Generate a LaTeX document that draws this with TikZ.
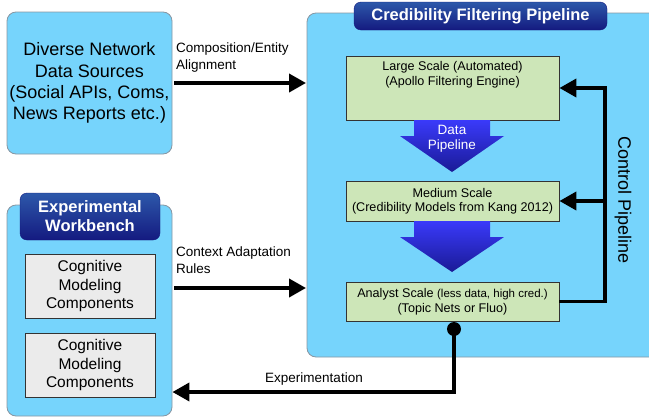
\documentclass[tikz,border=0pt]{standalone}
\usepackage{fontspec}
\setmainfont{Liberation Sans}
\usetikzlibrary{arrows.meta,calc}
\definecolor{skyb}{RGB}{118,212,252}
\definecolor{skyedge}{RGB}{135,150,162}
\definecolor{paleg}{RGB}{205,230,184}
\definecolor{paleq}{RGB}{235,235,235}
\definecolor{bantop}{RGB}{45,88,170}
\definecolor{banbot}{RGB}{20,26,128}
\definecolor{arrtop}{RGB}{58,58,250}
\definecolor{arrbot}{RGB}{26,26,150}
\begin{document}
\begin{tikzpicture}[x=1pt,y=-1pt,
  bluebox/.style={draw=skyedge, line width=0.8pt, fill=skyb, rounded corners=9pt},
  banner/.style={draw=banbot, rounded corners=7pt, top color=bantop, bottom color=banbot, text=white, font=\bfseries\fontsize{16.5}{19}\selectfont, align=center, inner sep=0pt},
  greenbox/.style={draw=black!80, line width=0.8pt, fill=paleg, minimum width=213pt, inner sep=0pt},
  graybox/.style={draw=black!80, line width=0.8pt, fill=paleq, minimum width=130pt, minimum height=64pt, align=center, font=\fontsize{15.5}{18.3}\selectfont, inner sep=0pt},
  boxtext/.style={align=center, font=\fontsize{12.6}{14.5}\selectfont, inner sep=0pt},
  lbl/.style={align=left, font=\fontsize{13.5}{17}\selectfont, inner sep=0pt},
  thickarrow/.style={line width=3.8pt, line join=miter, -{Triangle[length=17pt,width=18pt]}},
  bigarrow/.style={top color=arrtop, bottom color=arrbot}
]
\useasboundingbox (0,0) rectangle (649,418);
\begin{scope}
\clip (0,0) rectangle (649,418);
% pipeline container
\node[bluebox, minimum width=360pt, minimum height=344pt, inner sep=0pt] (pipe) at (487,185) {};
\end{scope}
\node[banner, minimum width=253pt, minimum height=28pt] (ptitle) at (480.5,16) {Credibility Filtering Pipeline};

% diverse sources
\node[bluebox, minimum width=165pt, minimum height=142pt, align=center, font=\fontsize{18}{21.2}\selectfont, inner sep=0pt] (src) at (89.5,83) {Diverse Network\\Data Sources\\(Social APIs, Coms,\\News Reports etc.)};

% workbench
\node[bluebox, minimum width=165pt, minimum height=211pt, inner sep=0pt] (wb) at (89.5,310.5) {};
\node[banner, minimum width=140pt, minimum height=47pt] (wbtitle) at (90,216.5) {Experimental\\Workbench};
\node[graybox] (cog1) at (90,286) {Cognitive\\Modeling\\Components};
\node[graybox] (cog2) at (90,365) {Cognitive\\Modeling\\Components};

% stages
\node[greenbox, minimum height=64pt] (large) at (452.5,88) {};
\node[boxtext, anchor=north] (largeT) at ($(large.north)+(0,6)$) {Large Scale (Automated)\\(Apollo Filtering Engine)};
\node[greenbox, minimum height=40pt, boxtext] (medium) at (452.5,201) {Medium Scale\\(Credibility Models from Kang 2012)};
\node[greenbox, minimum height=39pt, boxtext] (analyst) at (452.5,301.5) {Analyst Scale {\fontsize{11.5}{13}\selectfont(less data, high cred.)}\\(Topic Nets or Fluo)};

% data pipeline arrows
\shade[bigarrow] (414,120) -- (490,120) -- (490,136) -- (504,136) -- (452,172) -- (400,136) -- (414,136) -- cycle;
\node[align=center, text=white, font=\fontsize{13.5}{15}\selectfont, inner sep=0pt] (dp) at (452,139) {Data\\Pipeline};
\shade[bigarrow] (414,221) -- (490,221) -- (490,237) -- (504,237) -- (452,272) -- (400,237) -- (414,237) -- cycle;

% input arrows
\coordinate (a1s) at (174,83);
\coordinate (a1e) at (306,83);
\draw[thickarrow] (a1s) -- (a1e);
\node[lbl, anchor=north west] (l1) at (176,43) {Composition/Entity\\Alignment};
\coordinate (a2s) at (174,288);
\coordinate (a2e) at (306,288);
\draw[thickarrow] (a2s) -- (a2e);
\node[lbl, anchor=north west] (l2) at (176,247) {Context Adaptation\\Rules};

% control pipeline
\coordinate (cp) at (605,88);
\draw[thickarrow] (analyst.east) -| (cp) -- (large.east);
\draw[thickarrow] (cp |- medium.east) -- (medium.east);
\node[rotate=-90, font=\fontsize{18}{20}\selectfont, inner sep=0pt] (cpl) at (623,200) {Control Pipeline};

% experimentation
\node[circle, fill=black, minimum size=14pt, inner sep=0pt] (dot) at (454,329) {};
\coordinate (ex) at (454,392);
\draw[thickarrow] (dot.center) -- (ex) -- (wb.east |- ex);
\node[font=\fontsize{13.5}{15}\selectfont, inner sep=0pt] (exl) at (314,379) {Experimentation};
\end{tikzpicture}
\end{document}
